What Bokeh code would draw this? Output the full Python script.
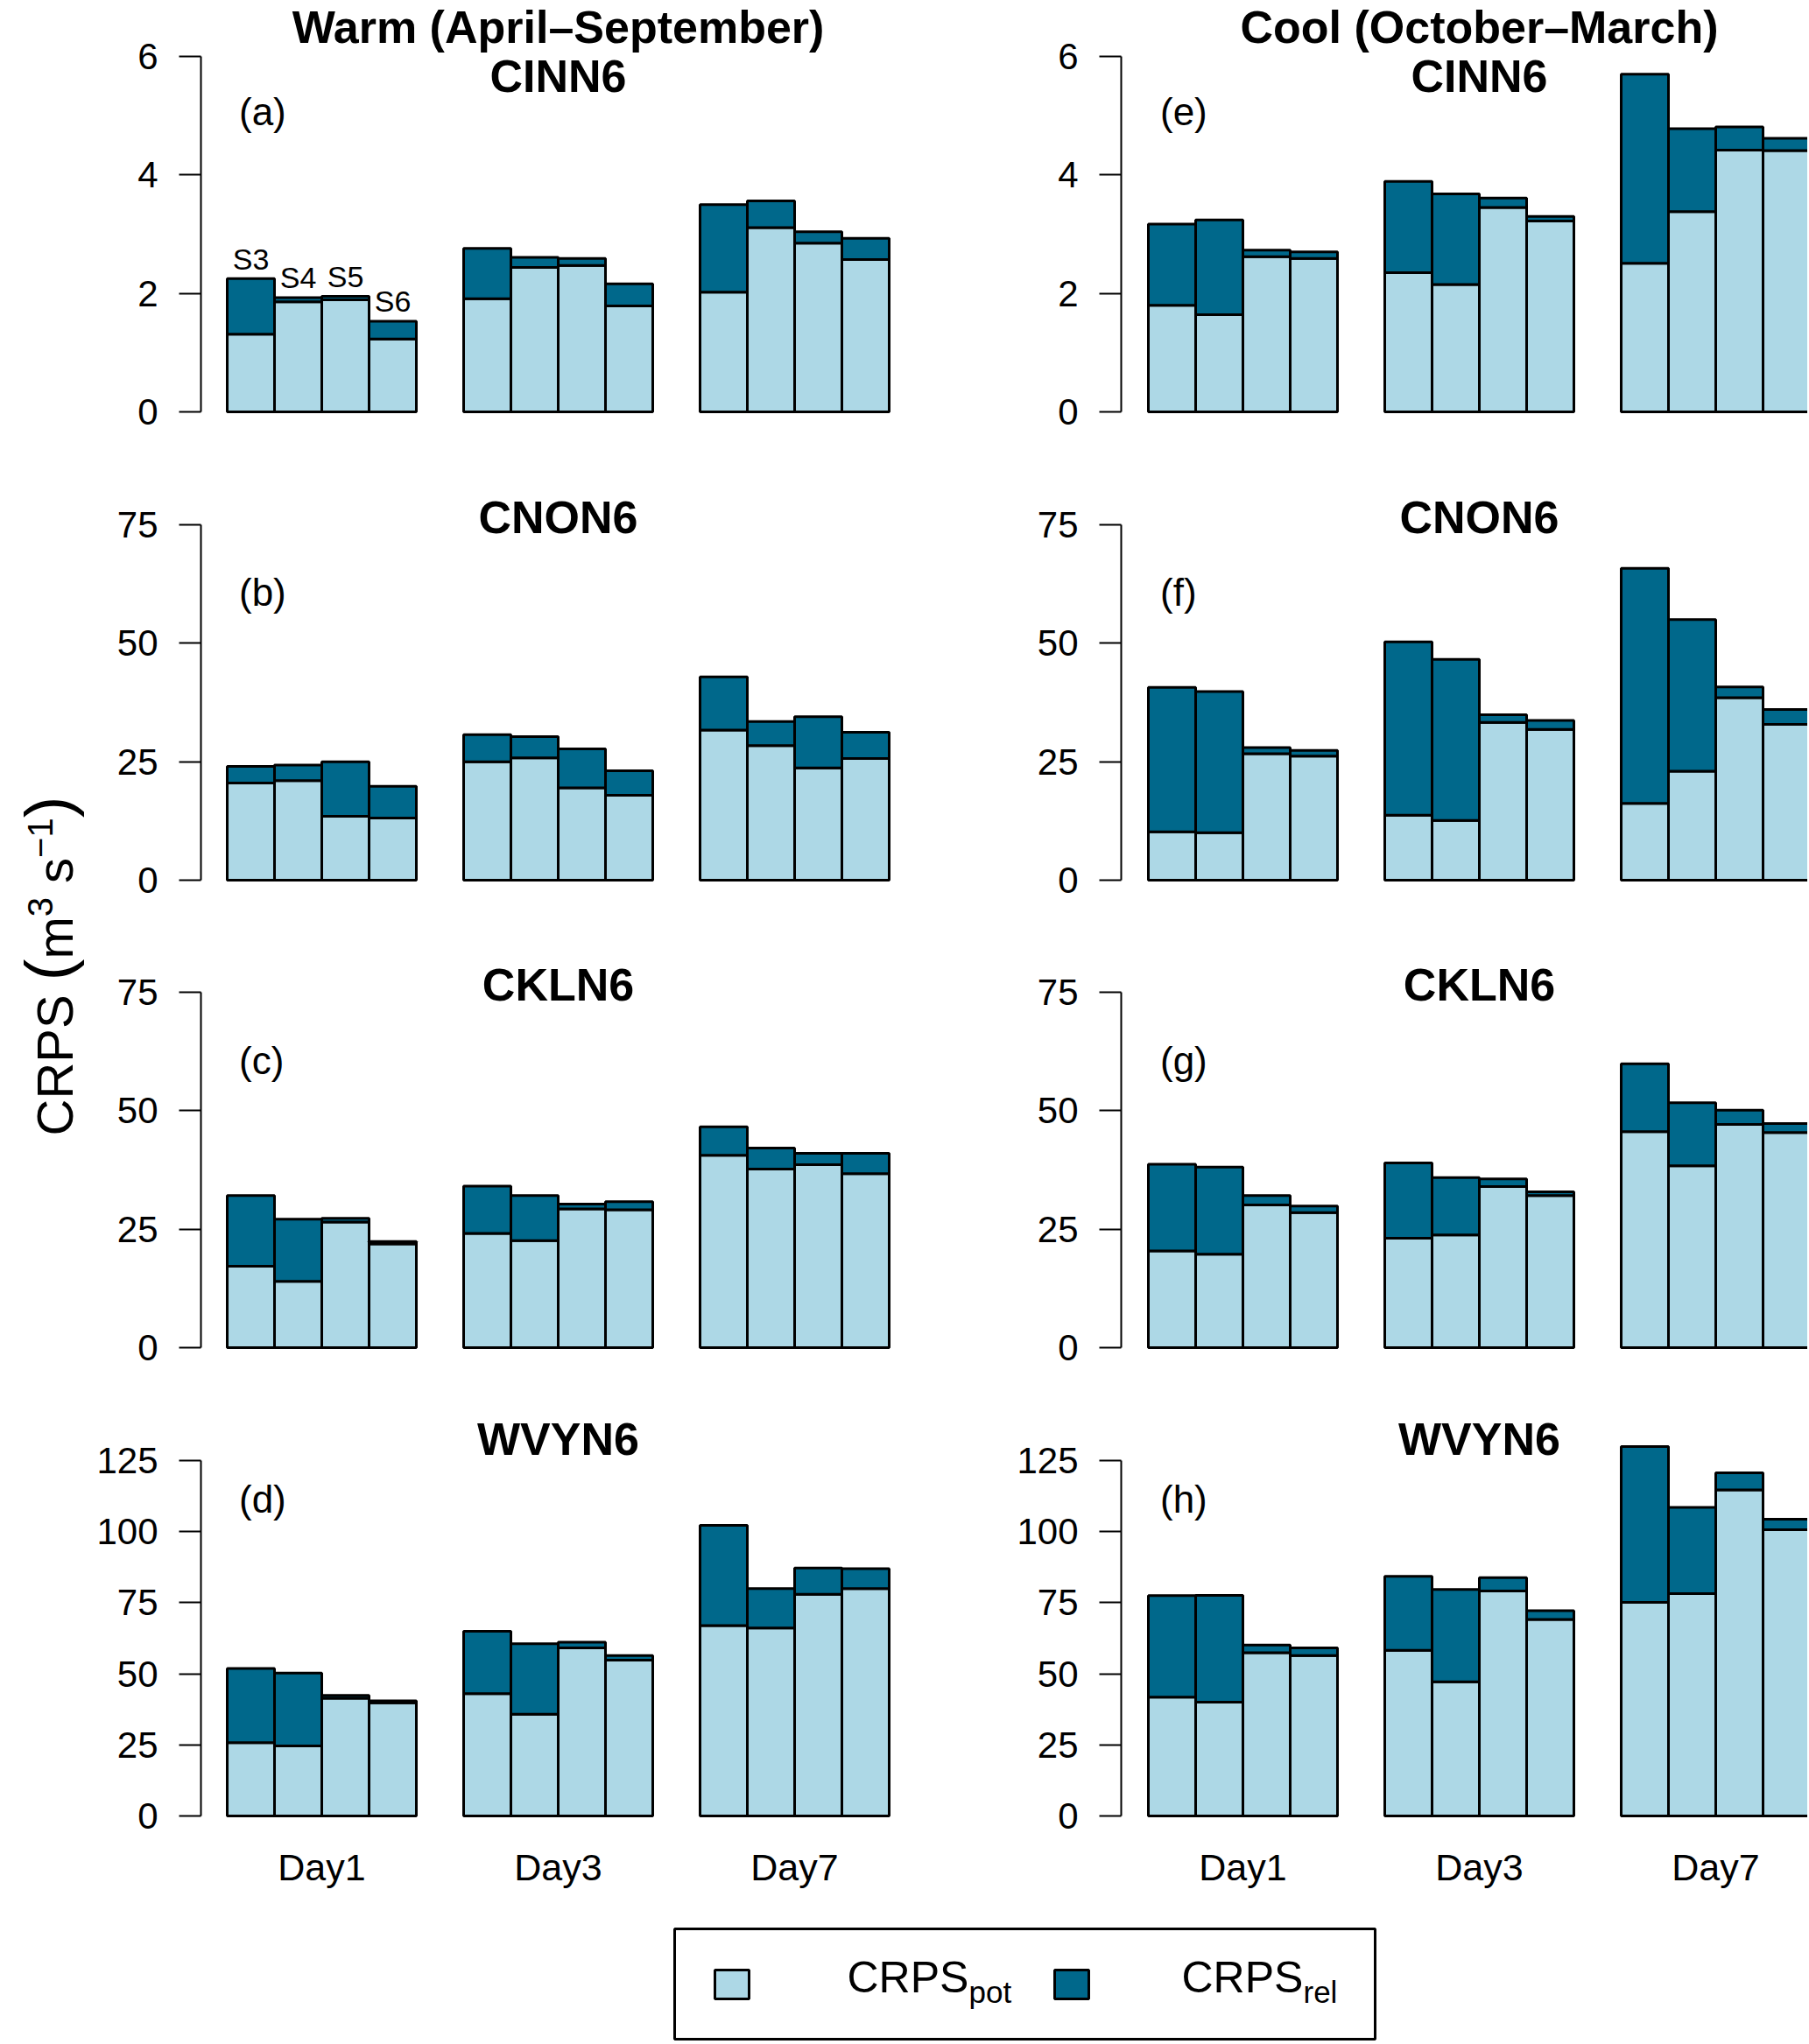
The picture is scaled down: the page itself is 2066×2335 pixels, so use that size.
import math
from bokeh.plotting import figure
from bokeh.models import Range1d, FixedTicker
from bokeh.layouts import row, column
from bokeh.core.properties import value
from bokeh.embed import file_html
from bokeh.resources import INLINE

FONT = "Liberation Sans"
LIGHT = "#ADD8E6"   # CRPS_pot
DARK = "#00688B"    # CRPS_rel

# ---------------- data ----------------
days = ["Day1", "Day3", "Day7"]
systems = ["S3", "S4", "S5", "S6"]
seasons = ["Warm (April\u2013September)", "Cool (October\u2013March)"]
stations = ["CINN6", "CNON6", "CKLN6", "WVYN6"]
panel_tags = [["(a)", "(b)", "(c)", "(d)"], ["(e)", "(f)", "(g)", "(h)"]]
y_ticks = [[0, 2, 4, 6], [0, 25, 50, 75], [0, 25, 50, 75], [0, 25, 50, 75, 100, 125]]

# order: Day1 S3..S6, Day3 S3..S6, Day7 S3..S6
warm_cinn6_pot = [1.31, 1.86, 1.89, 1.23, 1.91, 2.44, 2.47, 1.79, 2.02, 3.11, 2.85, 2.57]
warm_cinn6_rel = [0.94, 0.07, 0.06, 0.30, 0.85, 0.17, 0.12, 0.37, 1.48, 0.45, 0.19, 0.36]
warm_cnon6_pot = [20.5, 21.0, 13.5, 13.1, 25.0, 25.8, 19.5, 17.9, 31.7, 28.4, 23.7, 25.7]
warm_cnon6_rel = [3.5, 3.3, 11.5, 6.7, 5.7, 4.5, 8.2, 5.2, 11.2, 5.1, 10.8, 5.5]
warm_ckln6_pot = [17.2, 14.0, 26.5, 21.9, 24.1, 22.6, 29.3, 29.1, 40.6, 37.7, 38.6, 36.7]
warm_ckln6_rel = [14.9, 13.1, 0.8, 0.5, 10.0, 9.5, 1.0, 1.7, 6.0, 4.4, 2.4, 4.3]
warm_wvyn6_pot = [25.8, 24.6, 41.4, 39.8, 43.0, 35.8, 59.1, 54.8, 67.0, 66.1, 78.0, 80.0]
warm_wvyn6_rel = [26.1, 25.7, 1.0, 0.7, 22.0, 24.8, 2.0, 1.6, 35.2, 13.9, 9.2, 7.0]

cool_cinn6_pot = [1.80, 1.64, 2.62, 2.59, 2.35, 2.15, 3.45, 3.22, 2.51, 3.38, 4.42, 4.41]
cool_cinn6_rel = [1.37, 1.60, 0.11, 0.11, 1.54, 1.53, 0.16, 0.08, 3.19, 1.40, 0.39, 0.21]
cool_cnon6_pot = [10.2, 10.0, 26.7, 26.2, 13.7, 12.6, 33.3, 31.8, 16.2, 23.0, 38.5, 32.9]
cool_cnon6_rel = [30.5, 29.8, 1.3, 1.2, 36.6, 34.0, 1.6, 1.9, 49.6, 32.0, 2.3, 3.1]
cool_ckln6_pot = [20.4, 19.7, 30.1, 28.5, 23.1, 23.8, 34.0, 32.1, 45.6, 38.4, 47.1, 45.4]
cool_ckln6_rel = [18.3, 18.4, 2.0, 1.4, 15.9, 12.1, 1.6, 0.8, 14.3, 13.3, 3.0, 1.9]
cool_wvyn6_pot = [41.8, 40.0, 57.4, 56.4, 58.3, 47.2, 79.1, 69.1, 75.1, 78.2, 114.7, 100.7]
cool_wvyn6_rel = [35.7, 37.6, 2.7, 2.7, 26.0, 32.5, 4.7, 3.1, 54.8, 30.3, 6.0, 3.7]

pots = [[warm_cinn6_pot, warm_cnon6_pot, warm_ckln6_pot, warm_wvyn6_pot],
        [cool_cinn6_pot, cool_cnon6_pot, cool_ckln6_pot, cool_wvyn6_pot]]
rels = [[warm_cinn6_rel, warm_cnon6_rel, warm_ckln6_rel, warm_wvyn6_rel],
        [cool_cinn6_rel, cool_cnon6_rel, cool_ckln6_rel, cool_wvyn6_rel]]

# ---------------- geometry (page pixels) ----------------
BSH = 0.37                            # rendered baseline sits this many em below anchor
ZERO = [470, 1005, 1539, 2074]        # y pixel of value 0 in each row
SPAN = 406                            # pixels from 0 to top tick
FIG_TOP = [0, 535, 1070, 1605]
FIG_BOT = [535, 1070, 1605, 2170]
FRAME_BOT = [535, 1070, 1605, 2091]
COLS = [dict(x0=98, width=1022, frame_left=229, bar1=259),
        dict(x0=1120, width=944, frame_left=1280, bar1=1311)]
PX_UNIT = 54.0
TITLE_UP = [364, 395, 395, 411]       # station title baseline above zero (px)
TAG_UP = [327, 313, 312, 346]         # panel tag baseline above zero (px)
SEASON_TOP = 470 - 1                  # season title box top above zero (px)


def xdata(c, px):
    return 1 + (px - COLS[c]["bar1"]) / PX_UNIT


def make_panel(c, k):
    cfg = COLS[c]
    M = y_ticks[k][-1]
    s = SPAN / M
    Z = ZERO[k]
    y0 = -(FRAME_BOT[k] - Z) / s
    y1 = (Z - FIG_TOP[k]) / s
    frame_right = cfg["x0"] + cfg["width"]
    xr = Range1d(xdata(c, cfg["frame_left"]), xdata(c, frame_right))
    p = figure(width=cfg["width"], height=FIG_BOT[k] - FIG_TOP[k],
               x_range=xr, y_range=Range1d(y0, y1),
               output_backend="svg", toolbar_location=None, title=None,
               x_axis_location="below" if k == 3 else None,
               min_border_left=cfg["frame_left"] - cfg["x0"], min_border_right=0,
               min_border_top=0, min_border_bottom=FIG_BOT[k] - FRAME_BOT[k],
               outline_line_color=None, background_fill_color="white",
               border_fill_color="white")
    p.grid.visible = False

    pot = pots[c][k]
    rel = rels[c][k]
    left = [1 + g * 5 + j for g in range(len(days)) for j in range(len(systems))]
    right = [v + 1 for v in left]
    tot = [a + b for a, b in zip(pot, rel)]
    p.quad(left=left, right=right, bottom=[0] * len(pot), top=pot,
           fill_color=LIGHT, line_color="black", line_width=3)
    p.quad(left=left, right=right, bottom=pot, top=tot,
           fill_color=DARK, line_color="black", line_width=3)

    ax = p.yaxis[0]
    ax.ticker = FixedTicker(ticks=y_ticks[k])
    ax.bounds = (0, M)
    ax.axis_line_width = 2
    ax.axis_line_color = "black"
    ax.major_tick_line_width = 2
    ax.major_tick_line_color = "black"
    ax.major_tick_out = 25
    ax.major_tick_in = 0
    ax.minor_tick_line_color = None
    ax.major_label_standoff = 24
    ax.major_label_text_font = FONT
    ax.major_label_text_font_size = "42px"
    ax.major_label_text_color = "black"

    if k == 3:
        xa = p.xaxis[0]
        xa.ticker = FixedTicker(ticks=[3, 8, 13])
        xa.major_label_overrides = {3: days[0], 8: days[1], 13: days[2]}
        xa.axis_line_color = None
        xa.major_tick_line_color = None
        xa.minor_tick_line_color = None
        xa.major_tick_out = 0
        xa.major_tick_in = 0
        xa.major_label_standoff = 17
        xa.major_label_text_font = FONT
        xa.major_label_text_font_size = "43px"
        xa.major_label_text_color = "black"

    def label(x, up_px, txt, size, bold=False, align="left"):
        yv = (up_px + BSH * size) / s
        p.text(x=[x], y=[yv], text=[txt],
               text_font=value(FONT), text_font_size=value(f"{size}px"),
               text_font_style="bold" if bold else "normal", text_align=align,
               text_baseline="alphabetic", text_color="black")

    label(8, TITLE_UP[k], stations[k], 52, bold=True, align="center")
    label(1.25, TAG_UP[k], panel_tags[c][k], 44)
    if k == 0:
        p.text(x=[8], y=[SEASON_TOP / s], text=[seasons[c]],
               text_font=value(FONT), text_font_size=value("52px"),
               text_font_style="bold", text_align="center",
               text_baseline="top", text_color="black")
        if c == 0:
            xs = [v + 0.5 for v in left[:4]]
            ys = [t + (10 + BSH * 34) / s for t in tot[:4]]
            p.text(x=xs, y=ys, text=systems,
                   text_font=value(FONT), text_font_size=value("34px"),
                   text_align="center", text_baseline="alphabetic",
                   text_color="black")
    return p


left_col = column(*[make_panel(0, k) for k in range(4)])
right_col = column(*[make_panel(1, k) for k in range(4)])

# ---------------- y-axis title ----------------
ylab = figure(width=98, height=2170, x_range=Range1d(0, 98), y_range=Range1d(-2170, 0),
              output_backend="svg", toolbar_location=None, title=None,
              x_axis_location=None, y_axis_location=None,
              min_border=0, outline_line_color=None,
              background_fill_color="white", border_fill_color="white")
ylab.grid.visible = False
F, FS, FP = 58, 40, 74
# (text, font size, baseline x, advance before, advance of text)
pieces = [("CRPS", F, 83, 0.0, 3.056 * F), ("(", FP, 82, 0.0, 0.333 * FP),
          ("m", F, 83, 0.0, 0.833 * F), ("3", FS, 60, 0.0, 0.556 * FS),
          ("s", F, 83, 0.278 * F, 0.5 * F), ("\u22121", FS, 60, 0.0, 1.14 * FS),
          (")", FP, 82, 0.0, 0.333 * FP)]
ypos = 1297.0
for txt, fs, bx, pre, adv in pieces:
    ypos -= pre
    ylab.text(x=[bx - BSH * fs], y=[-ypos], text=[txt], angle=math.pi / 2,
              text_font=value(FONT), text_font_size=value(f"{fs}px"),
              text_align="left", text_baseline="alphabetic", text_color="black")
    ypos -= adv

# ---------------- legend ----------------
leg = figure(width=2064, height=163, x_range=Range1d(0, 2064), y_range=Range1d(-2333, -2170),
             output_backend="svg", toolbar_location=None, title=None,
             x_axis_location=None, y_axis_location=None,
             min_border=0, outline_line_color=None,
             background_fill_color="white", border_fill_color="white")
leg.grid.visible = False
leg.quad(left=[770], right=[1570], top=[-2203], bottom=[-2329],
         fill_color=None, line_color="black", line_width=3)
leg.quad(left=[816, 1204], right=[855, 1243], top=[-2250, -2250], bottom=[-2283, -2283],
         fill_color=[LIGHT, DARK], line_color="black", line_width=3)
leg.text(x=[967, 1349], y=[-(2277 - BSH * 50)] * 2, text=["CRPS", "CRPS"],
         text_font=value(FONT), text_font_size=value("50px"),
         text_align="left", text_baseline="alphabetic", text_color="black")
leg.text(x=[1106, 1488], y=[-(2288 - BSH * 35)] * 2, text=["pot", "rel"],
         text_font=value(FONT), text_font_size=value("35px"),
         text_align="left", text_baseline="alphabetic", text_color="black")

layout = column(row(ylab, left_col, right_col), leg)
open("out.html", "w").write(file_html(layout, INLINE))
